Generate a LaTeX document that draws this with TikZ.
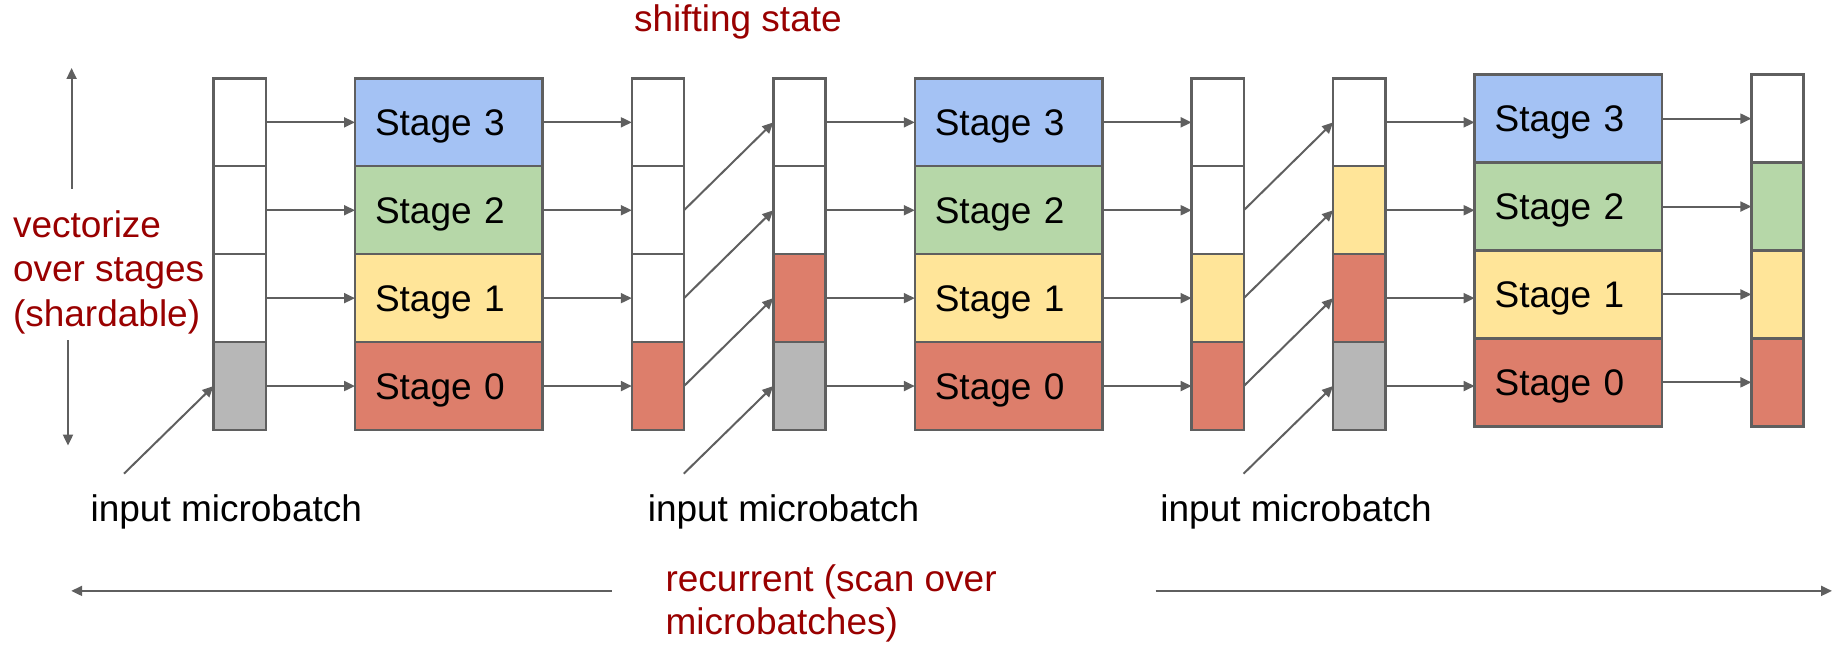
\documentclass[tikz,border=0pt]{standalone}
\usepackage{fontspec}
\setmainfont{Liberation Sans}
\usetikzlibrary{arrows.meta,calc}

\definecolor{stageblue}{HTML}{A4C2F4}
\definecolor{stagegreen}{HTML}{B6D7A8}
\definecolor{stageyellow}{HTML}{FFE599}
\definecolor{stagered}{HTML}{DD7E6B}
\definecolor{cellgray}{HTML}{B7B7B7}
\definecolor{edgegray}{HTML}{5F5F5F}
\definecolor{labelred}{HTML}{990000}

\begin{document}
\begin{tikzpicture}[x=0.5pt,y=-0.5pt,
  font=\fontsize{18.5pt}{22pt}\selectfont,
  cell/.style={draw=edgegray, line width=1.2pt, inner sep=0pt, outer sep=0pt,
    minimum width=26.1pt, minimum height=43.95pt},
  block/.style={cell, minimum width=93.75pt, inner xsep=10pt,
    text width=73.75pt, align=left, text height=13.3pt, text depth=0pt},
  conn/.style={draw=edgegray, line width=1pt,
    -{Triangle[length=5.5pt,width=5pt]}},
  lbl/.style={anchor=base west, inner sep=0pt, text=labelred},
  txt/.style={anchor=base west, inner sep=0pt, text=black}]

\useasboundingbox (0,0) rectangle (1843,647);

% state columns: index / centre x / top y / fills from stage 0 upwards
\foreach \c/\x/\top/\fills in {
    1/239.6/78.4/{cellgray,white,white,white},
    2/657.9/78.4/{stagered,white,white,white},
    3/799.4/78.4/{cellgray,stagered,white,white},
    4/1217.7/78.4/{stagered,stageyellow,white,white},
    5/1359.2/78.4/{cellgray,stagered,stageyellow,white},
    6/1777.5/74.7/{stagered,stageyellow,stagegreen,white}} {
  \foreach \f [count=\k from 0] in \fills {
    \node[cell, fill=\f] (c\c-\k) at (\x, {\top+43.95+(3-\k)*87.9}) {};
  }
}

% stage blocks
\foreach \b/\x/\top in {1/448.75/78.4, 2/1008.55/78.4, 3/1568.35/74.7} {
  \foreach \f [count=\k from 0] in {stagered,stageyellow,stagegreen,stageblue} {
    \node[block, fill=\f] (b\b-\k) at (\x, {\top+43.95+(3-\k)*87.9}) {Stage \k};
  }
}

% horizontal transfers
\foreach \k in {0,...,3} {
  \draw[conn] (c1-\k.east) -- (b1-\k.west);
  \draw[conn] (b1-\k.east) -- (c2-\k.west);
  \draw[conn] (c3-\k.east) -- (b2-\k.west);
  \draw[conn] (b2-\k.east) -- (c4-\k.west);
  \draw[conn] (c5-\k.east) -- (c5-\k.east -| b3-\k.west);
  \draw[conn] (b3-\k.east) -- (c6-\k.west);
}

% state shifted up by one stage
\foreach \k [evaluate=\k as \n using int(\k+1)] in {0,1,2} {
  \draw[conn] (c2-\k.east) -- (c3-\n.west);
  \draw[conn] (c4-\k.east) -- (c5-\n.west);
}

% incoming microbatches
\foreach \c in {1,3,5} {
  \coordinate (in\c) at ($(c\c-0.west)+(-89.5,87.6)$);
  \draw[conn] (in\c) -- (c\c-0.west);
}
\node[txt] (mb1) at (90.2,521) {input microbatch};
\node[txt] (mb2) at (647.4,521) {input microbatch};
\node[txt] (mb3) at (1160,521) {input microbatch};

% stage axis
\coordinate (upS) at (71.6,188.6);
\coordinate (upE) at (71.6,68);
\coordinate (dnS) at (68,340.4);
\coordinate (dnE) at (68,445.6);
\draw[conn] (upS) -- (upE);
\draw[conn] (dnS) -- (dnE);
\node[lbl] (vec1) at (12.6,237) {vectorize};
\node[lbl] (vec2) at (12.6,281.5) {over stages};
\node[lbl] (vec3) at (12.6,326) {(shardable)};

% time axis
\coordinate (ltS) at (611.9,590.9);
\coordinate (ltE) at (71.2,590.9);
\coordinate (rtS) at (1155.6,590.9);
\coordinate (rtE) at (1832,590.9);
\draw[conn] (ltS) -- (ltE);
\draw[conn] (rtS) -- (rtE);
\node[lbl] (rec1) at (665.2,591) {recurrent (scan over};
\node[lbl] (rec2) at (665.2,634) {microbatches)};

\node[lbl] (shift) at (633.6,32) {shifting state};
\end{tikzpicture}
\end{document}
